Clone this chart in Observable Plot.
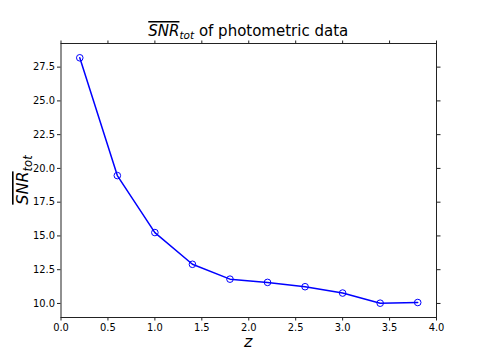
<!DOCTYPE html>
<html><head>
<meta charset="utf-8">
<script src="https://cdn.jsdelivr.net/npm/d3@7"></script>
<script src="https://cdn.jsdelivr.net/npm/@observablehq/plot@0.6"></script>
<style>body{margin:0;background:#fff} svg{font-family:"DejaVu Sans"}</style>
</head><body><div id="chart"></div>
<script>
const z = [0.2, 0.6, 1.0, 1.4, 1.8, 2.2, 2.6, 3.0, 3.4, 3.8];
const snr = [28.19, 19.47, 15.25, 12.90, 11.80, 11.56, 11.24, 10.77, 10.02, 10.07];
const xTicks = [0, 0.5, 1, 1.5, 2, 2.5, 3, 3.5, 4];
const yTicks = [10, 12.5, 15, 17.5, 20, 22.5, 25, 27.5];
const data = z.map((v, i) => ({z: v, snr: snr[i]}));
const fmt = d => d.toFixed(1);

const chart = Plot.plot({
  width: 485, height: 363,
  marginLeft: 60.5, marginRight: 49, marginTop: 43, marginBottom: 46,
  style: {fontFamily: "DejaVu Sans", fontSize: "9.9px", color: "#000", background: "#fff", overflow: "visible"},
  x: {domain: [0, 4]},
  y: {domain: [8.96, 29.25]},
  marks: [
    Plot.axisX(xTicks, {anchor: "bottom", tickSize: 3.5, tickPadding: 2.5, tickFormat: fmt, label: null, stroke: "#222"}),
    Plot.axisX(xTicks, {anchor: "top", tickSize: 3.5, tickFormat: () => "", label: null, stroke: "#222"}),
    Plot.axisY(yTicks, {anchor: "left", tickSize: 3.5, tickPadding: 2.5, tickFormat: fmt, label: null, stroke: "#222"}),
    Plot.axisY(yTicks, {anchor: "right", tickSize: 3.5, tickFormat: () => "", label: null, stroke: "#222"}),
    Plot.frame({stroke: "#222", strokeWidth: 1}),
    Plot.line(data, {x: "z", y: "snr", stroke: "#0000ff", strokeWidth: 1.5}),
    Plot.dot(data, {x: "z", y: "snr", stroke: "#0000ff", r: 3.3, strokeWidth: 1, fill: "none"})
  ]
});
document.getElementById("chart").appendChild(chart);

const svg = d3.select(chart);
const cx = (60.5 + 485 - 49) / 2;
const cy = (43 + 363 - 46) / 2;

// Title
const t = svg.append("text").attr("x", cx).attr("y", 36).attr("text-anchor", "middle")
  .attr("font-size", 15).attr("fill", "#000");
t.append("tspan").attr("font-style", "italic").style("text-decoration", "overline").text("SNR");
t.append("tspan").attr("font-style", "italic").attr("font-size", 10.5).attr("dy", 3).text("tot");
t.append("tspan").attr("dy", -3).text(" of photometric data");

// X label
svg.append("text").attr("x", cx).attr("y", 347).attr("text-anchor", "middle")
  .attr("font-size", 16).attr("font-style", "italic").attr("fill", "#000").text("z");

// Y label
const yl = svg.append("text").attr("transform", `translate(28,${cy}) rotate(-90)`)
  .attr("text-anchor", "middle").attr("font-size", 16).attr("fill", "#000");
yl.append("tspan").attr("font-style", "italic").style("text-decoration", "overline").text("SNR");
yl.append("tspan").attr("font-style", "italic").attr("font-size", 11.5).attr("dy", 4).text("tot");
</script>
</body></html>
